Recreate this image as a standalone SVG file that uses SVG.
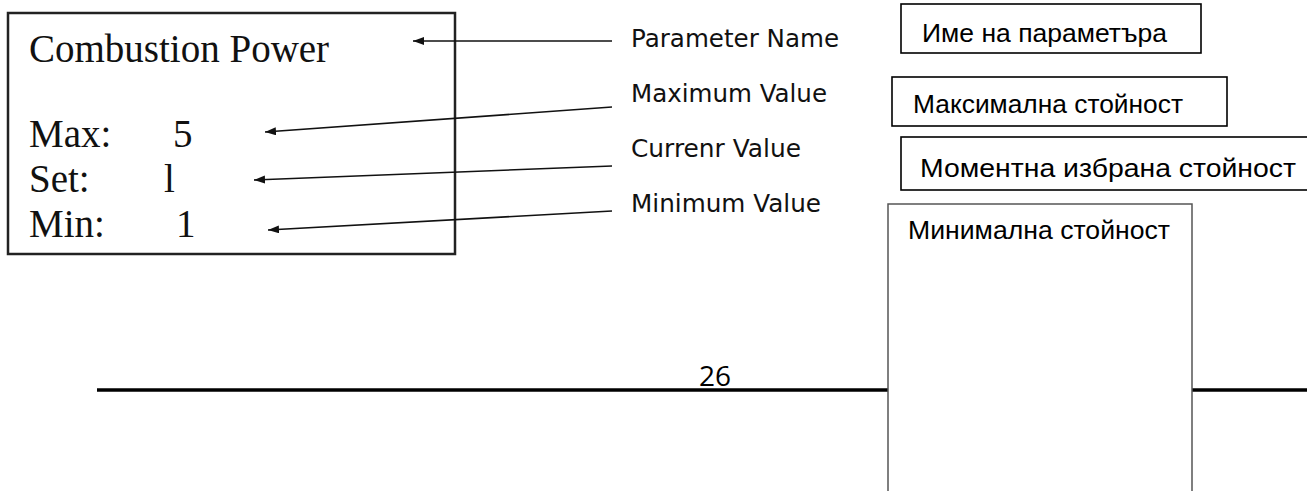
<svg xmlns="http://www.w3.org/2000/svg" width="1307" height="491" viewBox="0 0 1307 491">
  <style>
    .serif { font-family: "Liberation Serif", "Times New Roman", serif; font-size: 39px; fill: #111; }
    .lbl { font-family: "DejaVu Sans", Verdana, sans-serif; font-size: 25px; fill: #111; }
    .bg { font-family: "Liberation Sans", Arial, sans-serif; font-size: 26.5px; fill: #000; }
    .conn { stroke: #111; stroke-width: 1.6; fill: none; marker-end: url(#ah); }
    .box { fill: #fff; stroke: #000; stroke-width: 1.6; }
  </style>
  <defs>
    <marker id="ah" markerUnits="userSpaceOnUse" markerWidth="12" markerHeight="10" refX="11" refY="4" orient="auto">
      <path d="M0,0 L11,4 L0,8 z" fill="#111"/>
    </marker>
  </defs>
  <rect width="1307" height="491" fill="#fff"/>

  <g id="page-rule">
    <line x1="97" y1="390" x2="1307" y2="390" stroke="#000" stroke-width="3.5"/>
    <text x="699" y="386" font-family="'Open Sans', 'Liberation Sans', sans-serif" font-size="28" fill="#000">26</text>
  </g>

  <g id="display">
    <rect x="8" y="13" width="447" height="241" fill="#fff" stroke="#222" stroke-width="2.5"/>
    <text class="serif" x="29" y="62" font-size="40.5">Combustion Power</text>
    <text class="serif" x="29" y="147">Max:</text>
    <text class="serif" x="173" y="147">5</text>
    <text class="serif" x="29" y="192">Set:</text>
    <text class="serif" x="164" y="192">l</text>
    <text class="serif" x="29" y="237">Min:</text>
    <text class="serif" x="176" y="237">1</text>
  </g>

  <g id="labels-en">
    <text class="lbl" x="631" y="47" textLength="208" lengthAdjust="spacingAndGlyphs">Parameter Name</text>
    <text class="lbl" x="631" y="102" textLength="196" lengthAdjust="spacingAndGlyphs">Maximum Value</text>
    <text class="lbl" x="631" y="157" textLength="170" lengthAdjust="spacingAndGlyphs">Currenr Value</text>
    <text class="lbl" x="631" y="212" textLength="190" lengthAdjust="spacingAndGlyphs">Minimum Value</text>
  </g>

  <g id="connectors">
    <line class="conn" x1="612" y1="41" x2="413" y2="41"/>
    <line class="conn" x1="612" y1="107" x2="265" y2="132"/>
    <line class="conn" x1="612" y1="166" x2="254" y2="180"/>
    <line class="conn" x1="612" y1="211" x2="268" y2="230"/>
  </g>

  <g id="bg-name">
    <rect class="box" x="901" y="4" width="300" height="49"/>
    <text class="bg" x="922" y="42" textLength="245" lengthAdjust="spacingAndGlyphs">Име на параметъра</text>
  </g>
  <g id="bg-max">
    <rect class="box" x="892" y="77" width="335" height="49"/>
    <text class="bg" x="913" y="113" textLength="270" lengthAdjust="spacingAndGlyphs">Максимална стойност</text>
  </g>
  <g id="bg-set">
    <rect class="box" x="901" y="137" width="420" height="53"/>
    <text class="bg" x="920" y="177" textLength="376" lengthAdjust="spacingAndGlyphs">Моментна избрана стойност</text>
  </g>
  <g id="bg-min">
    <rect x="888" y="204" width="304" height="300" fill="#fff" stroke="#555" stroke-width="1.5"/>
    <text class="bg" x="908" y="239" textLength="262" lengthAdjust="spacingAndGlyphs">Минимална стойност</text>
  </g>
</svg>
